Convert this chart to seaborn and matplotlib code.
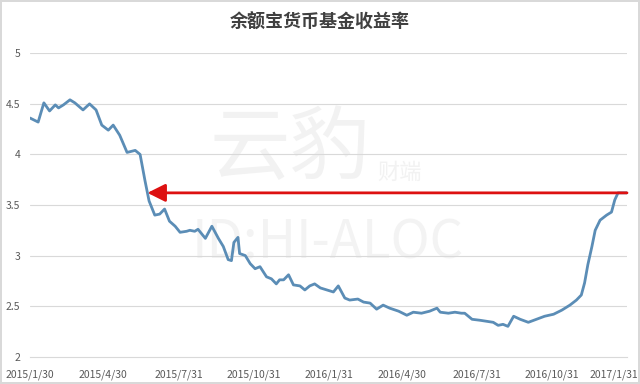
import matplotlib
matplotlib.use("Agg")
import matplotlib.pyplot as plt
import seaborn as sns
import pandas as pd

title = "余额宝货币基金收益率"

dates = [
    "2015-01-30", "2015-02-09", "2015-02-16", "2015-02-23", "2015-03-02", "2015-03-06",
    "2015-03-12", "2015-03-20", "2015-03-26", "2015-04-05", "2015-04-13", "2015-04-21",
    "2015-04-28", "2015-05-06", "2015-05-12", "2015-05-20", "2015-05-29", "2015-06-08",
    "2015-06-14", "2015-06-20", "2015-06-25", "2015-07-02", "2015-07-08", "2015-07-14",
    "2015-07-20", "2015-07-27", "2015-08-02", "2015-08-10", "2015-08-14", "2015-08-20",
    "2015-08-24", "2015-08-28", "2015-09-02", "2015-09-10", "2015-09-18", "2015-09-24",
    "2015-09-30", "2015-10-04", "2015-10-07", "2015-10-12", "2015-10-14", "2015-10-21",
    "2015-10-27", "2015-11-02", "2015-11-08", "2015-11-16", "2015-11-22", "2015-11-28",
    "2015-12-02", "2015-12-07", "2015-12-13", "2015-12-19", "2015-12-27", "2016-01-02",
    "2016-01-08", "2016-01-14", "2016-01-21", "2016-01-29", "2016-02-06", "2016-02-12",
    "2016-02-20", "2016-02-26", "2016-03-07", "2016-03-14", "2016-03-22", "2016-03-30",
    "2016-04-07", "2016-04-15", "2016-04-26", "2016-05-06", "2016-05-14", "2016-05-24",
    "2016-06-03", "2016-06-12", "2016-06-16", "2016-06-26", "2016-07-04", "2016-07-12",
    "2016-07-16", "2016-07-25", "2016-08-04", "2016-08-12", "2016-08-20", "2016-08-26",
    "2016-09-01", "2016-09-07", "2016-09-14", "2016-09-22", "2016-10-02", "2016-10-12",
    "2016-10-22", "2016-11-02", "2016-11-12", "2016-11-22", "2016-11-30", "2016-12-06",
    "2016-12-10", "2016-12-14", "2016-12-19", "2016-12-23", "2016-12-29", "2017-01-06",
    "2017-01-12", "2017-01-16", "2017-01-20", "2017-01-26", "2017-01-31",
]

rates = [
    4.36, 4.32, 4.51, 4.43, 4.49, 4.46,
    4.49, 4.54, 4.51, 4.44, 4.50, 4.44,
    4.29, 4.24, 4.29, 4.19, 4.02, 4.04,
    4.00, 3.74, 3.54, 3.40, 3.41, 3.46,
    3.34, 3.29, 3.23, 3.24, 3.25, 3.24,
    3.26, 3.22, 3.17, 3.29, 3.17, 3.09,
    2.96, 2.95, 3.13, 3.18, 3.02, 3.00,
    2.92, 2.87, 2.89, 2.79, 2.77, 2.72,
    2.76, 2.76, 2.81, 2.71, 2.70, 2.66,
    2.70, 2.72, 2.68, 2.66, 2.64, 2.70,
    2.58, 2.56, 2.57, 2.54, 2.53, 2.47,
    2.51, 2.48, 2.45, 2.41, 2.44, 2.43,
    2.45, 2.48, 2.44, 2.43, 2.44, 2.43,
    2.43, 2.37, 2.36, 2.35, 2.34, 2.31,
    2.32, 2.30, 2.40, 2.37, 2.34, 2.37,
    2.40, 2.42, 2.46, 2.51, 2.56, 2.61,
    2.73, 2.91, 3.09, 3.25, 3.35, 3.40,
    3.43, 3.55, 3.62, 3.62, 3.62,
]

arrow_start_date = "2015-06-23"

y_ticks = [2, 2.5, 3, 3.5, 4, 4.5, 5]
y_labels = ["2", "2.5", "3", "3.5", "4", "4.5", "5"]
x_tick_dates = ["2015-01-30", "2015-04-30", "2015-07-31", "2015-10-31", "2016-01-31",
                "2016-04-30", "2016-07-31", "2016-10-31", "2017-01-31"]
x_labels = ["2015/1/30", "2015/4/30", "2015/7/31", "2015/10/31", "2016/1/31",
            "2016/4/30", "2016/7/31", "2016/10/31", "2017/1/31"]

df = pd.DataFrame({"date": pd.to_datetime(dates), "rate": rates})

sns.set_theme(style="white")
plt.rcParams["font.family"] = ["Noto Sans CJK SC", "DejaVu Sans"]

fig = plt.figure(figsize=(6.4, 3.84), dpi=100)
fig.patch.set_facecolor("white")
fig.patch.set_edgecolor("#d9d9d9")
fig.patch.set_linewidth(1.5)
ax = fig.add_axes([30 / 640, 27.3 / 384, 597 / 640, 303.4 / 384])
ax.set_facecolor("none")

# faint watermark, drawn beneath the data
ax.text(290 / 640, 1 - 150 / 384, "云豹", fontsize=58, color="#f2f2f2",
        ha="center", va="center", zorder=0, transform=fig.transFigure)
ax.text(400 / 640, 1 - 172 / 384, "财端", fontsize=16, color="#f2f2f2",
        ha="center", va="center", zorder=0, transform=fig.transFigure)
ax.text(328 / 640, 1 - 243 / 384, "ID:HI-ALOC", fontsize=38, color="#f3f3f3",
        ha="center", va="center", zorder=0, transform=fig.transFigure)

for yv in y_ticks[1:]:
    ax.axhline(yv, color="#d9d9d9", lw=0.8, zorder=1)

sns.lineplot(data=df, x="date", y="rate", ax=ax, color="#5b8db6", lw=2.0, zorder=3)

ax.annotate("", xy=(pd.Timestamp(arrow_start_date), rates[-1]),
            xytext=(df["date"].iloc[-1], rates[-1]),
            arrowprops=dict(arrowstyle="-|>,head_length=0.9,head_width=0.45",
                            color="#dd1111", lw=2.0, shrinkA=0, shrinkB=0),
            zorder=4)

ax.set_xlim(pd.Timestamp(dates[0]), pd.Timestamp(dates[-1]))
ax.set_ylim(2, 5)
ax.set_yticks(y_ticks)
ax.set_yticklabels(y_labels)
ax.set_xticks(pd.to_datetime(x_tick_dates))
ax.set_xticklabels(x_labels)
ax.tick_params(axis="both", length=0, labelsize=7.5, colors="#595959")
ax.tick_params(axis="y", pad=7)
ax.tick_params(axis="x", pad=9)
last = ax.get_xticklabels()[-1]
last.set_horizontalalignment("right")
last.set_x(last.get_position()[0])
import matplotlib.transforms as mtransforms
last.set_transform(last.get_transform() + mtransforms.ScaledTranslation(11 / 100, 0, fig.dpi_scale_trans))
ax.set_xlabel("")
ax.set_ylabel("")
for s in ["top", "right", "left"]:
    ax.spines[s].set_visible(False)
ax.spines["bottom"].set_color("#d9d9d9")
ax.spines["bottom"].set_linewidth(0.8)

fig.text(0.5, 1 - 22 / 384, title, fontsize=13, fontweight="bold",
         color="#404040", ha="center", va="center")

fig.savefig("out.png", dpi=100, facecolor=fig.get_facecolor(), edgecolor=fig.get_edgecolor())
